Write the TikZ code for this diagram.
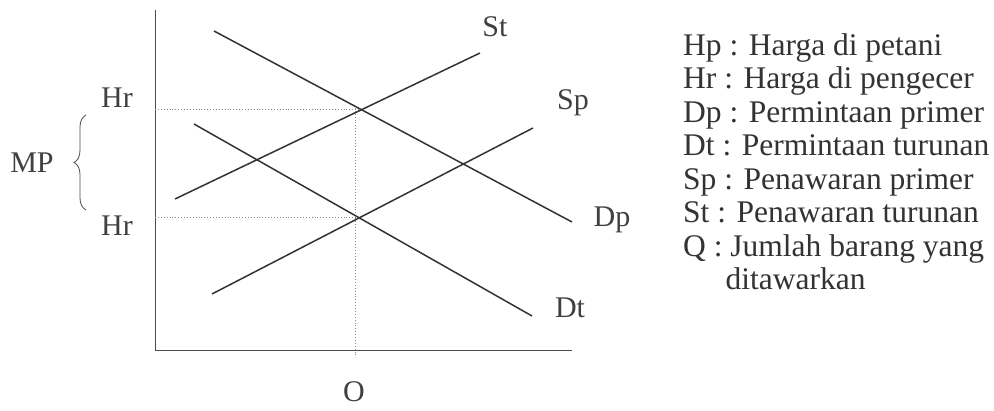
\documentclass[tikz,border=0pt]{standalone}
\usepackage{fontspec}
\setmainfont{Liberation Serif}
\usetikzlibrary{decorations.pathreplacing}
\begin{document}
\begin{tikzpicture}[x=1pt,y=-1pt,
  curve/.style={line width=1.5pt,draw=black!80},
  axisline/.style={line width=0.9pt,draw=black!70},
  guide/.style={line width=0.9pt,draw=black!45,dotted},
  lbl/.style={inner sep=0pt,text=black!75,font=\fontsize{30}{32}\selectfont},
  legend/.style={inner sep=0pt,text=black!80,align=left,font=\fontsize{31.5}{33.5}\selectfont}]
\useasboundingbox (0,0) rectangle (994,411);
\fill[white] (0,0) rectangle (994,411);
% axes
\coordinate (axtop) at (155,10);
\coordinate (org) at (155,350);
\coordinate (axright) at (572,350);
\draw[axisline] (axtop) -- (org) -- (axright);
% curve end points
\coordinate (dp1) at (214,31);  \coordinate (dp2) at (572,222);
\coordinate (st1) at (175,199); \coordinate (st2) at (480,53);
\coordinate (dt1) at (194,124); \coordinate (dt2) at (532,316);
\coordinate (sp1) at (212,294); \coordinate (sp2) at (533,128);
\coordinate (E1) at (intersection of dp1--dp2 and st1--st2);
\coordinate (E2) at (intersection of dt1--dt2 and sp1--sp2);
\coordinate (qtop) at (355,108);
\coordinate (qbot) at (355,357);
% guides
\draw[guide] (axtop |- E1) -- (E1);
\draw[guide] (axtop |- E2) -- (E2);
\draw[guide] (qtop) -- (qbot);
% curves
\draw[curve] (dp1) -- (dp2);
\draw[curve] (st1) -- (st2);
\draw[curve] (dt1) -- (dt2);
\draw[curve] (sp1) -- (sp2);
% labels
\node[lbl] (lSt) at (495,27) {St};
\node[lbl] (lSp) at (573,103) {Sp};
\node[lbl] (lDp) at (612,220) {Dp};
\node[lbl] (lDt) at (570,308) {Dt};
\node[lbl] (lHr1) at (117,98) {Hr};
\node[lbl] (lHr2) at (117,226) {Hr};
\node[lbl] (lMP) at (32,163) {MP};
\node[lbl] (lO) at (354,392) {O};
% brace
\coordinate (bb) at (86,210);
\coordinate (bt) at (86,115);
\draw[line width=0.8pt,draw=black!70,decorate,decoration={brace,amplitude=12pt}] (bb) -- (bt);
% legend
\node[legend,anchor=north west] (leg) at (683,33) {Hp : Harga di petani\\
Hr : Harga di pengecer\\
Dp : Permintaan primer\\
Dt : Permintaan turunan\\
Sp : Penawaran primer\\
St : Penawaran turunan\\
Q : Jumlah barang yang\\
\hspace*{1.35em}ditawarkan};
\end{tikzpicture}
\end{document}
